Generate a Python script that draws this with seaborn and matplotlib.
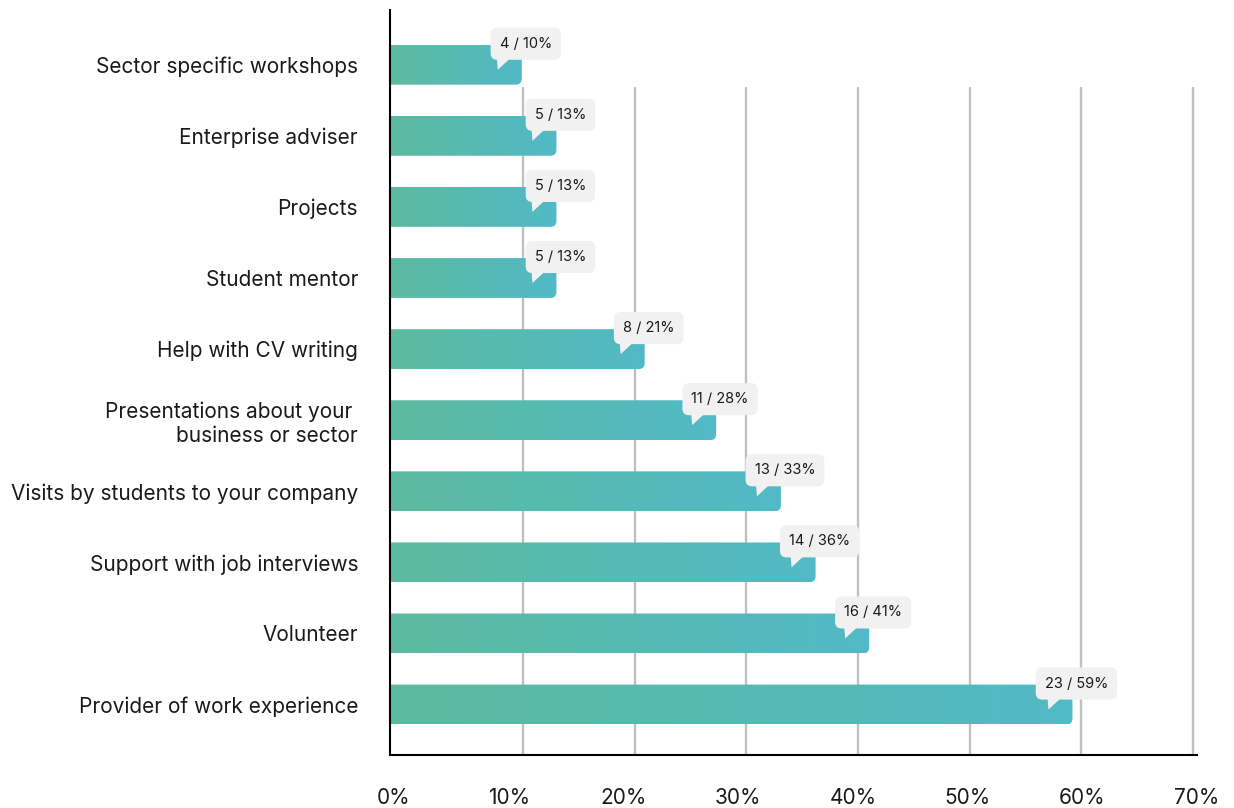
import numpy as np
import matplotlib
matplotlib.use("Agg")
import matplotlib.pyplot as plt
import matplotlib.transforms as mtransforms
from matplotlib.colors import LinearSegmentedColormap
from matplotlib.patches import FancyBboxPatch, Polygon
import seaborn as sns

# data
categories = [
    "Sector specific workshops",
    "Enterprise adviser",
    "Projects",
    "Student mentor",
    "Help with CV writing",
    "Presentations about your \nbusiness or sector",
    "Visits by students to your company",
    "Support with job interviews",
    "Volunteer",
    "Provider of work experience",
]
counts = [4, 5, 5, 5, 8, 11, 13, 14, 16, 23]
percents = [9.9, 13.0, 13.0, 13.0, 20.9, 27.3, 33.1, 36.2, 41.0, 59.2]
pct_labels = [10, 13, 13, 13, 21, 28, 33, 36, 41, 59]
tick_labels = ["0%", "10%", "20%", "30%", "40%", "50%", "60%", "70%"]

sns.set_style("white")
plt.rcParams["font.family"] = ["Inter", "DejaVu Sans"]

fig = plt.figure(figsize=(12.34, 8.08), dpi=100)
W, H = 1234, 808
ax = fig.add_axes([390 / W, (H - 755) / H, (1197 - 390) / W, (755 - 10) / H])

sns.barplot(x=percents, y=categories, orient="h", width=0.56, color="#5BBBA0", ax=ax)

xmin, xmax = -1.9, 70
ymin, ymax = 9.71, -0.77
ax.set_xlim(xmin, xmax)
ax.set_ylim(ymin, ymax)

# gradient bars with rounded right end
cmap = LinearSegmentedColormap.from_list("bar", ["#5CBB9F", "#52B9C7"])
grad = np.linspace(0, 1, 256).reshape(1, -1)
px_x = ax.transData.transform((1, 0))[0] - ax.transData.transform((0, 0))[0]
px_y = abs(ax.transData.transform((0, 1))[1] - ax.transData.transform((0, 0))[1])
r = 6 / px_x
aspect = (6 / px_y) / r
for patch in list(ax.patches):
    x1 = patch.get_x() + patch.get_width()
    y0 = patch.get_y()
    h = patch.get_height()
    patch.set_visible(False)
    clip = FancyBboxPatch((xmin - 3, y0), x1 - xmin + 3, h,
                          boxstyle=f"round,pad=0,rounding_size={r}",
                          mutation_aspect=aspect, transform=ax.transData,
                          fc="none", ec="none")
    ax.add_patch(clip)
    im = ax.imshow(grad, cmap=cmap, aspect="auto", extent=(xmin, x1, y0 + h, y0),
                   zorder=2, interpolation="bilinear")
    im.set_clip_path(clip)

ax.set_xlim(xmin, xmax)
ax.set_ylim(ymin, ymax)

# gridlines
for v in range(10, 80, 10):
    ax.axvline(v, ymin=0, ymax=0.895, color="#C0C0C0", lw=1.7, zorder=0.5)

# callouts
for i, (c, p, lab) in enumerate(zip(counts, percents, pct_labels)):
    ax.annotate(f"{c} / {lab}%", xy=(p, i), xytext=(4 * 0.72, 21 * 0.72),
                textcoords="offset points", ha="center", va="center",
                fontsize=10.5, color="#1a1a1a", zorder=4,
                bbox=dict(boxstyle="round,pad=0.62,rounding_size=0.45",
                          fc="#F1F1F1", ec="none"))
    tr = mtransforms.Affine2D() + mtransforms.ScaledTranslation(p, i, ax.transData)
    tri = Polygon([(-25, 7), (-11, 7), (-24, -5)], closed=True, transform=tr,
                  fc="#F1F1F1", ec="none", zorder=3.9)
    ax.add_patch(tri)

# axes styling
for s in ["top", "right"]:
    ax.spines[s].set_visible(False)
for s in ["left", "bottom"]:
    ax.spines[s].set_color("black")
    ax.spines[s].set_linewidth(1.5)
    ax.spines[s].set_zorder(5)

ax.set_xticks(np.linspace(xmin + 0.35, xmax + 0.35, len(tick_labels)))
ax.set_xticklabels(tick_labels, fontsize=15, color="#1a1a1a")
ax.tick_params(axis="x", length=0, pad=24)
ax.tick_params(axis="y", length=0, pad=23, labelsize=15, labelcolor="#1a1a1a")
ax.set_xlabel("")
ax.set_ylabel("")

fig.savefig("out.png", dpi=100)
